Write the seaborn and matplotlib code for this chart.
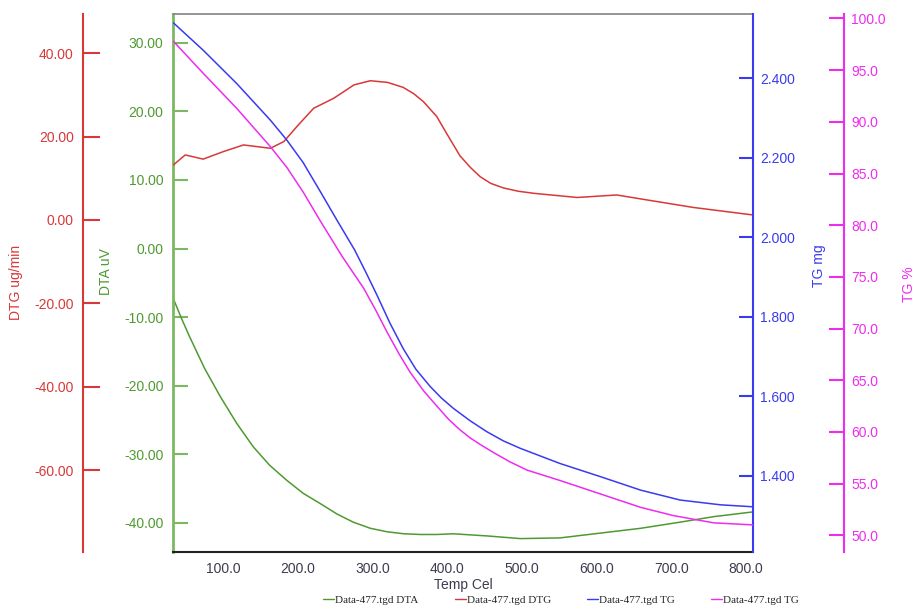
import numpy as np
import matplotlib
matplotlib.use("Agg")
import matplotlib.pyplot as plt
import seaborn as sns
from matplotlib.ticker import FormatStrFormatter
from matplotlib.lines import Line2D

# values
dta_temp = [33, 44, 55, 75, 96, 118, 140, 162, 185, 207, 230, 252, 274, 297, 319, 342, 364,
            386, 408, 452, 498, 551, 605, 659, 712, 757, 810]
dta_uv = [-7.3, -10.2, -12.9, -17.5, -21.6, -25.5, -28.9, -31.6, -33.8, -35.7, -37.2, -38.7,
          -39.9, -40.8, -41.3, -41.6, -41.7, -41.7, -41.6, -41.9, -42.3, -42.2, -41.5, -40.8,
          -39.9, -39.1, -38.4]

dtg_temp = [33, 49, 73, 100, 127, 163, 181, 200, 221, 248, 275, 297, 320, 341, 355, 368, 386,
            399, 417, 431, 444, 458, 475, 495, 516, 574, 627, 668, 730, 810]
dtg_ugmin = [13.2, 15.6, 14.6, 16.4, 18.0, 17.2, 18.8, 22.7, 26.8, 29.2, 32.4, 33.4, 33.0, 31.8,
             30.3, 28.4, 24.8, 20.8, 15.4, 12.6, 10.4, 8.8, 7.7, 6.9, 6.4, 5.4, 6.0, 4.8, 3.0, 1.2]

tg_temp = [33, 73, 118, 163, 185, 207, 230, 252, 276, 291, 306, 323, 341, 358, 377, 392, 408,
           431, 453, 475, 498, 551, 605, 659, 712, 766, 810]
tg_mg = [2.540, 2.471, 2.387, 2.295, 2.245, 2.188, 2.115, 2.044, 1.968, 1.912, 1.854, 1.785,
         1.720, 1.668, 1.625, 1.596, 1.570, 1.538, 1.511, 1.488, 1.469, 1.431, 1.398, 1.364,
         1.339, 1.327, 1.322]

tgp_temp = [33, 73, 118, 163, 185, 207, 230, 259, 288, 304, 319, 335, 350, 368, 386, 402, 417,
            431, 446, 462, 484, 507, 551, 605, 659, 703, 757, 810]
tg_pct = [97.8, 94.7, 91.3, 87.6, 85.6, 83.2, 80.4, 77.0, 73.9, 71.8, 69.7, 67.6, 65.8, 64.0,
          62.5, 61.2, 60.2, 59.4, 58.7, 58.0, 57.1, 56.3, 55.3, 54.0, 52.7, 51.9, 51.2, 51.0]

x_ticks = [100, 200, 300, 400, 500, 600, 700, 800]
dtg_ticks = [-60, -40, -20, 0, 20, 40]
dta_ticks = [-40, -30, -20, -10, 0, 10, 20, 30]
mg_ticks = [1.4, 1.6, 1.8, 2.0, 2.2, 2.4]
pct_ticks = [50, 55, 60, 65, 70, 75, 80, 85, 90, 95, 100]
legend_labels = ["Data-477.tgd DTA", "Data-477.tgd DTG", "Data-477.tgd TG", "Data-477.tgd TG"]

sns.set_theme(style="white")
plt.rcParams["font.family"] = ["Liberation Sans", "DejaVu Sans"]

c_dta = "#4f9a30"
c_dta_ax = "#7cb864"
c_dtg = "#d83838"
c_tg = "#3a3af0"
c_pct = "#ee2cee"
fs = 10

fig = plt.figure(figsize=(9.16, 6.07), dpi=100)
ax = fig.add_axes([0.1892, 0.0901, 0.6332, 0.8868])
ax_dtg = ax.twinx()
ax_tg = ax.twinx()
ax_pct = ax.twinx()

sns.lineplot(x=dta_temp, y=dta_uv, ax=ax, color=c_dta, linewidth=1.1)
sns.lineplot(x=dtg_temp, y=dtg_ugmin, ax=ax_dtg, color=c_dtg, linewidth=1.1)
sns.lineplot(x=tg_temp, y=tg_mg, ax=ax_tg, color=c_tg, linewidth=1.1)
sns.lineplot(x=tgp_temp, y=tg_pct, ax=ax_pct, color=c_pct, linewidth=1.1)

ax.set_xlim(33, 810)
ax.set_ylim(-44.3, 34.2)
ax_dtg.set_ylim(-79.7, 49.4)
ax_tg.set_ylim(1.2075, 2.562)
ax_pct.set_ylim(48.35, 100.43)

# main axes: x and DTA
ax.set_xticks(x_ticks)
ax.xaxis.set_major_formatter(FormatStrFormatter("%.1f"))
ax.set_yticks(dta_ticks)
ax.yaxis.set_major_formatter(FormatStrFormatter("%.2f"))
ax.tick_params(axis="x", direction="in", length=9, width=1, color="#333333",
               labelsize=fs, labelcolor="#3c3c50", pad=7)
ax.tick_params(axis="y", direction="in", length=11, width=1.5, color=c_dta_ax,
               labelsize=fs, labelcolor=c_dta, pad=7)
ax.spines["left"].set_color(c_dta_ax)
ax.spines["left"].set_linewidth(2)
ax.spines["bottom"].set_color("#222222")
ax.spines["bottom"].set_linewidth(1.5)
ax.spines["top"].set_color("#888888")
ax.spines["right"].set_visible(False)
ax.set_xlabel("Temp Cel", fontsize=fs, color="#3c3c50", labelpad=1.5)
ax.set_ylabel("")

# DTG axis on the far left
ax_dtg.yaxis.set_label_position("left")
ax_dtg.yaxis.tick_left()
ax_dtg.spines["left"].set_position(("axes", -0.155))
ax_dtg.spines["left"].set_visible(True)
ax_dtg.spines["left"].set_color(c_dtg)
ax_dtg.spines["left"].set_linewidth(1.5)
for s in ["right", "top", "bottom"]:
    ax_dtg.spines[s].set_visible(False)
ax_dtg.set_yticks(dtg_ticks)
ax_dtg.yaxis.set_major_formatter(FormatStrFormatter("%.2f"))
ax_dtg.tick_params(axis="y", direction="in", length=12, width=1.5, color=c_dtg,
                   labelsize=fs, labelcolor=c_dtg, pad=7)
ax_dtg.set_ylabel("")

# TG mg on the right
ax_tg.spines["right"].set_color(c_tg)
ax_tg.spines["right"].set_linewidth(1.5)
for s in ["left", "top", "bottom"]:
    ax_tg.spines[s].set_visible(False)
ax_tg.set_yticks(mg_ticks)
ax_tg.yaxis.set_major_formatter(FormatStrFormatter("%.3f"))
ax_tg.tick_params(axis="y", direction="in", length=10, width=1.5, color=c_tg,
                  labelsize=fs, labelcolor=c_tg, pad=5)
ax_tg.set_ylabel("")

# TG % on the far right
ax_pct.spines["right"].set_position(("axes", 1.1564))
ax_pct.spines["right"].set_color(c_pct)
ax_pct.spines["right"].set_linewidth(1.5)
for s in ["left", "top", "bottom"]:
    ax_pct.spines[s].set_visible(False)
ax_pct.set_yticks(pct_ticks)
ax_pct.yaxis.set_major_formatter(FormatStrFormatter("%.1f"))
ax_pct.tick_params(axis="y", direction="in", length=11, width=1.5, color=c_pct,
                   labelsize=fs, labelcolor=c_pct, pad=5)
ax_pct.set_ylabel("")

# axis titles
fig.text(16 / 916, 1 - 282 / 607, "DTG ug/min", rotation=90, color=c_dtg, fontsize=fs,
         ha="center", va="center")
fig.text(106 / 916, 1 - 272 / 607, "DTA uV", rotation=90, color=c_dta, fontsize=fs,
         ha="center", va="center")
fig.text(819 / 916, 1 - 266 / 607, "TG mg", rotation=90, color=c_tg, fontsize=fs,
         ha="center", va="center")
fig.text(909 / 916, 1 - 284 / 607, "TG %", rotation=90, color=c_pct, fontsize=fs,
         ha="center", va="center")

handles = [Line2D([], [], color=c, linewidth=1) for c in [c_dta, c_dtg, c_tg, c_pct]]
fig.legend(handles, legend_labels, loc="center", bbox_to_anchor=(561 / 916, 1 - 600 / 607),
           ncol=4, frameon=False, handlelength=1.0, handletextpad=0.1, columnspacing=3.25,
           prop={"family": "Liberation Serif", "size": 8})

fig.savefig("out.png", dpi=100)
